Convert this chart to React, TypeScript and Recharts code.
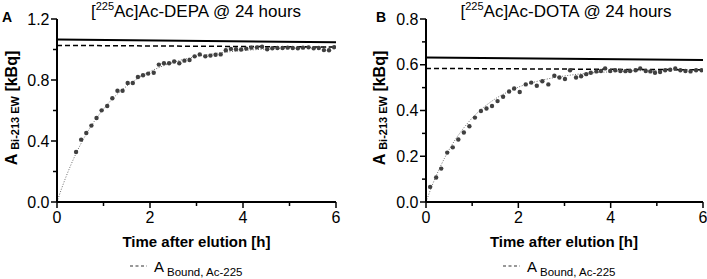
import { ComposedChart, Line, Scatter, XAxis, YAxis } from "recharts"

const FONT = "'Liberation Sans', Arial, Helvetica, sans-serif"

// hours after elution, Bi-213 activity in eluate (kBq)
const depaTimes = [
  0.41, 0.52, 0.63, 0.74, 0.85, 0.96, 1.08, 1.19, 1.3, 1.41, 1.52, 1.63, 1.74,
  1.85, 1.96, 2.08, 2.19, 2.3, 2.41, 2.52, 2.63, 2.74, 2.85, 2.96, 3.07, 3.19,
  3.3, 3.41, 3.52, 3.63, 3.74, 3.85, 3.96, 4.07, 4.18, 4.3, 4.41, 4.52, 4.63,
  4.74, 4.85, 4.96, 5.07, 5.18, 5.29, 5.41, 5.52, 5.63, 5.74, 5.85, 5.96,
]
const depaValues = [
  0.328, 0.409, 0.452, 0.501, 0.551, 0.601, 0.63, 0.68, 0.73, 0.73, 0.78, 0.78,
  0.82, 0.831, 0.842, 0.848, 0.901, 0.91, 0.91, 0.921, 0.91, 0.927, 0.931,
  0.955, 0.968, 0.955, 0.96, 0.966, 0.968, 0.995, 1.004, 1.002, 1.0, 1.006,
  1.012, 1.014, 1.018, 1.002, 1.008, 1.01, 1.01, 1.012, 1.01, 1.008, 1.012,
  1.014, 1.008, 1.01, 0.996, 0.995, 1.015,
]

const dotaTimes = [
  0.09, 0.22, 0.33, 0.46, 0.58, 0.7, 0.82, 0.94, 1.06, 1.19, 1.31, 1.43, 1.55,
  1.67, 1.8, 1.91, 2.03, 2.16, 2.28, 2.4, 2.52, 2.65, 2.78, 2.89, 3.01, 3.12,
  3.25, 3.36, 3.47, 3.57, 3.69, 3.79, 3.88, 3.99, 4.1, 4.21, 4.32, 4.42, 4.54,
  4.64, 4.76, 4.86, 4.96, 5.07, 5.18, 5.29, 5.4, 5.51, 5.62, 5.73, 5.85, 5.97,
]
const dotaValues = [
  0.066, 0.107, 0.146, 0.216, 0.239, 0.273, 0.304, 0.331, 0.369, 0.398, 0.409,
  0.42, 0.441, 0.46, 0.483, 0.496, 0.481, 0.514, 0.522, 0.508, 0.528, 0.514,
  0.552, 0.544, 0.538, 0.576, 0.544, 0.55, 0.559, 0.565, 0.571, 0.573, 0.584,
  0.573, 0.576, 0.573, 0.572, 0.573, 0.576, 0.584, 0.573, 0.571, 0.565, 0.568,
  0.576, 0.578, 0.584, 0.576, 0.573, 0.571, 0.576, 0.576,
]

// ingrowth fit (dotted)
const fitTimes = [0, 0.1, 0.2, 0.3, 0.4, 0.6, 0.8, 1, 1.25, 1.5, 1.75, 2, 2.5, 3, 3.5, 4, 5, 6]
const depaFit = [0, 0.089, 0.17, 0.244, 0.312, 0.43, 0.528, 0.61, 0.694, 0.76, 0.813, 0.855, 0.916, 0.954, 0.978, 0.993, 1.009, 1.017]
const dotaFit = [0, 0.055, 0.105, 0.15, 0.191, 0.262, 0.319, 0.367, 0.414, 0.451, 0.479, 0.502, 0.532, 0.551, 0.563, 0.569, 0.576, 0.579]

// horizontal reference lines at t = 0 and t = 6
const refTimes = [0, 6]
const depaTotal = [1.065, 1.047]
const depaBound = [1.027, 1.016]
const dotaTotal = [0.632, 0.621]
const dotaBound = [0.584, 0.578]

const xTicks = [0, 1, 2, 3, 4, 5, 6]
const xMajor = [0, 2, 4, 6]
const depaYTicks = [0, 0.2, 0.4, 0.6, 0.8, 1.0, 1.2]
const depaYMajor = [0, 0.4, 0.8, 1.2]
const dotaYTicks = [0, 0.1, 0.2, 0.3, 0.4, 0.5, 0.6, 0.7, 0.8]
const dotaYMajor = [0, 0.2, 0.4, 0.6, 0.8]

const zip = (ts: number[], vs: number[]) => ts.map((t, i) => ({ t, v: vs[i] }))
const isMajor = (list: number[], v: number) => list.some((m) => Math.abs(m - v) < 1e-6)

function XTick({ x, y, payload }: any) {
  const major = isMajor(xMajor, payload.value)
  return (
    <g>
      <line x1={x} x2={x} y1={y} y2={y + (major ? 6 : 4)} stroke="#000" strokeWidth={1.5} />
      {major && (
        <text x={x} y={y + 21} textAnchor="middle" fontSize={16} fontFamily={FONT} fill="#000">
          {payload.value}
        </text>
      )}
    </g>
  )
}

function makeYTick(majors: number[]) {
  return ({ x, y, payload }: any) => {
    const major = isMajor(majors, payload.value)
    return (
      <g>
        <line x1={x - (major ? 6 : 4)} x2={x} y1={y} y2={y} stroke="#000" strokeWidth={1.5} />
        {major && (
          <text x={x - 7.5} y={y + 5.7} textAnchor="end" fontSize={16} fontFamily={FONT} fill="#000">
            {payload.value.toFixed(1)}
          </text>
        )}
      </g>
    )
  }
}

const Dot = (p: any) => <circle cx={p.cx} cy={p.cy} r={2.2} fill="#404040" />

interface PanelProps {
  width: number
  plotLeft: number
  plotRight: number
  yMax: number
  yTicks: number[]
  yMajor: number[]
  points: { t: number; v: number }[]
  fit: number[]
  total: number[]
  bound: number[]
}

function Panel({ width, plotLeft, plotRight, yMax, yTicks, yMajor, points, fit, total, bound }: PanelProps) {
  return (
    <ComposedChart
      width={width}
      height={279}
      margin={{ top: 19, right: width - plotRight, bottom: 47, left: plotLeft - 40 }}
    >
      <XAxis
        type="number"
        dataKey="t"
        domain={[0, 6]}
        ticks={xTicks}
        interval={0}
        height={30}
        tickSize={0}
        tickMargin={0}
        tickLine={false}
        axisLine={{ stroke: "#000", strokeWidth: 2 }}
        tick={XTick}
        allowDataOverflow
      />
      <YAxis
        type="number"
        domain={[0, yMax]}
        ticks={yTicks}
        interval={0}
        width={40}
        tickSize={0}
        tickMargin={0}
        tickLine={false}
        axisLine={{ stroke: "#000", strokeWidth: 2 }}
        tick={makeYTick(yMajor)}
        allowDataOverflow
      />
      <Line
        data={zip(fitTimes, fit)}
        dataKey="v"
        type="monotone"
        stroke="#6a6a6a"
        strokeWidth={1}
        strokeDasharray="1 1.6"
        dot={false}
        isAnimationActive={false}
      />
      <Line
        data={zip(refTimes, total)}
        dataKey="v"
        type="linear"
        stroke="#000"
        strokeWidth={2}
        dot={false}
        isAnimationActive={false}
      />
      <Line
        data={zip(refTimes, bound)}
        dataKey="v"
        type="linear"
        stroke="#000"
        strokeWidth={1.5}
        strokeDasharray="5 3"
        dot={false}
        isAnimationActive={false}
      />
      <Scatter data={points} dataKey="v" shape={Dot} isAnimationActive={false} />
    </ComposedChart>
  )
}

function Title({ x, name }: { x: number; name: string }) {
  return (
    <text x={x} y={17} textAnchor="middle" fontSize={17} fontFamily={FONT} fill="#000">
      [<tspan fontSize={11} dy={-7}>225</tspan>
      <tspan dy={7}>Ac]Ac-{name} @ 24 hours</tspan>
    </text>
  )
}

function YLabel({ x, y }: { x: number; y: number }) {
  return (
    <text
      transform={`translate(${x},${y}) rotate(-90)`}
      textAnchor="middle"
      fontSize={16}
      fontWeight="bold"
      fontFamily={FONT}
      fill="#000"
    >
      A <tspan fontSize={11} dy={2}>Bi-213 EW</tspan>
      <tspan dy={-2}> [kBq]</tspan>
    </text>
  )
}

function LegendItem({ x }: { x: number }) {
  return (
    <g>
      <line x1={x} x2={x + 17} y1={266} y2={266} stroke="#333" strokeWidth={1.2} strokeDasharray="3 2.5" />
      <text x={x + 24} y={272} fontSize={15} fontFamily={FONT} fill="#000">
        A<tspan dx={3} fontSize={11.5} dy={4}>Bound, Ac-225</tspan>
      </text>
    </g>
  )
}

export default function App() {
  return (
    <div style={{ position: "absolute", left: 0, top: 0, width: 707, height: 279, background: "#fff" }}>
      <div style={{ position: "absolute", left: 0, top: 0 }}>
        <Panel
          width={350}
          plotLeft={57}
          plotRight={336}
          yMax={1.2}
          yTicks={depaYTicks}
          yMajor={depaYMajor}
          points={zip(depaTimes, depaValues)}
          fit={depaFit}
          total={depaTotal}
          bound={depaBound}
        />
      </div>
      <div style={{ position: "absolute", left: 350, top: 0 }}>
        <Panel
          width={357}
          plotLeft={76}
          plotRight={353}
          yMax={0.8}
          yTicks={dotaYTicks}
          yMajor={dotaYMajor}
          points={zip(dotaTimes, dotaValues)}
          fit={dotaFit}
          total={dotaTotal}
          bound={dotaBound}
        />
      </div>
      <svg
        width={707}
        height={279}
        style={{ position: "absolute", left: 0, top: 0, pointerEvents: "none" }}
      >
        <text x={2} y={22} fontSize={14} fontWeight="bold" fontFamily={FONT}>A</text>
        <text x={376} y={22} fontSize={14} fontWeight="bold" fontFamily={FONT}>B</text>
        <Title x={196} name="DEPA" />
        <Title x={566} name="DOTA" />
        <YLabel x={17} y={108} />
        <YLabel x={385} y={108} />
        <text x={196.5} y={247} textAnchor="middle" fontSize={15} fontWeight="bold" fontFamily={FONT}>
          Time after elution [h]
        </text>
        <text x={564} y={247} textAnchor="middle" fontSize={15} fontWeight="bold" fontFamily={FONT}>
          Time after elution [h]
        </text>
        <LegendItem x={130} />
        <LegendItem x={503} />
      </svg>
    </div>
  )
}
